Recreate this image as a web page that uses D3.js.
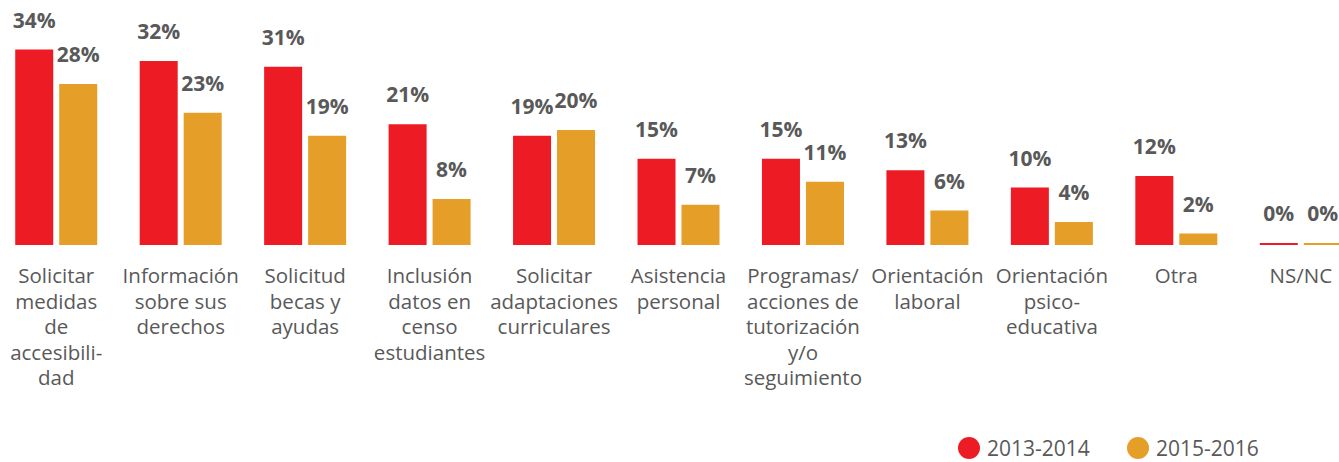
<!DOCTYPE html>
<html>
<head>
<meta charset="utf-8">
<script src="https://cdn.jsdelivr.net/npm/d3@7"></script>
<style>
  html, body { margin: 0; padding: 0; background: #fff; }
  svg { display: block; }
  text { font-family: "Open Sans", "Noto Sans", sans-serif; fill: #595959; }
</style>
</head>
<body>
<svg id="chart" width="1339" height="462"></svg>
<script>
// Categories (each label split into its display lines)
const categories = [
  ["Solicitar", "medidas", "de", "accesibili-", "dad"],
  ["Información", "sobre sus", "derechos"],
  ["Solicitud", "becas y", "ayudas"],
  ["Inclusión", "datos en", "censo", "estudiantes"],
  ["Solicitar", "adaptaciones", "curriculares"],
  ["Asistencia", "personal"],
  ["Programas/", "acciones de", "tutorización", "y/o", "seguimiento"],
  ["Orientación", "laboral"],
  ["Orientación", "psico-", "educativa"],
  ["Otra"],
  ["NS/NC"]
];
const seriesNames = ["2013-2014", "2015-2016"];
const values2013 = [34, 32, 31, 21, 19, 15, 15, 13, 10, 12, 0];
const values2015 = [28, 23, 19, 8, 20, 7, 11, 6, 4, 2, 0];
const colors = ["#ED1C24", "#E59E28"];

const svg = d3.select("#chart");
const baseY = 245;
const ids = categories.map((c, i) => i);

const x0 = d3.scaleBand().domain(ids).range([-6, 1363]).padding(0);
const x1 = d3.scaleBand().domain([0, 1]).range([0, 82]).paddingInner(0.136);
const y = d3.scaleLinear().domain([0, 34]).range([baseY, baseY - 195.5]);

const rows = ids.map(i => ({ i, vals: [values2013[i], values2015[i]] }));

const groups = svg.append("g").selectAll("g")
  .data(rows).join("g")
  .attr("transform", d => `translate(${x0(d.i) + x0.bandwidth() / 2 - 41},0)`);

groups.selectAll("rect")
  .data(d => d.vals.map((v, s) => ({ v, s })))
  .join("rect")
  .attr("x", d => x1(d.s))
  .attr("width", x1.bandwidth())
  .attr("y", d => Math.min(y(d.v), baseY - 2))
  .attr("height", d => Math.max(baseY - y(d.v), 2))
  .attr("fill", d => colors[d.s]);

groups.selectAll("text.val")
  .data(d => d.vals.map((v, s) => ({ v, s })))
  .join("text")
  .attr("class", "val")
  .attr("x", d => x1(d.s) + x1.bandwidth() / 2)
  .attr("y", d => Math.min(y(d.v), baseY - 2) - 22)
  .attr("text-anchor", "middle")
  .style("font-weight", "700")
  .style("font-size", "21px")
  .text(d => d.v + "%");

// Category axis (labels only)
const axis = svg.append("g")
  .attr("transform", `translate(0,${baseY})`)
  .call(d3.axisBottom(x0).tickSize(0).tickFormat(""));
axis.select(".domain").remove();
axis.selectAll(".tick").each(function (d) {
  const t = d3.select(this).append("text")
    .attr("text-anchor", "middle")
    .style("font-size", "20.5px")
    .attr("y", 38);
  categories[d].forEach((line, k) => {
    t.append("tspan").attr("x", 0).attr("dy", k === 0 ? 0 : 25.5).text(line);
  });
});

// Legend
const legend = svg.append("g").selectAll("g")
  .data(seriesNames).join("g")
  .attr("transform", (d, i) => `translate(${969 + i * 169},448)`);
legend.append("circle").attr("r", 11).attr("fill", (d, i) => colors[i]);
legend.append("text")
  .attr("x", 18).attr("y", 7.5)
  .style("font-size", "21px")
  .text(d => d);
</script>
</body>
</html>
